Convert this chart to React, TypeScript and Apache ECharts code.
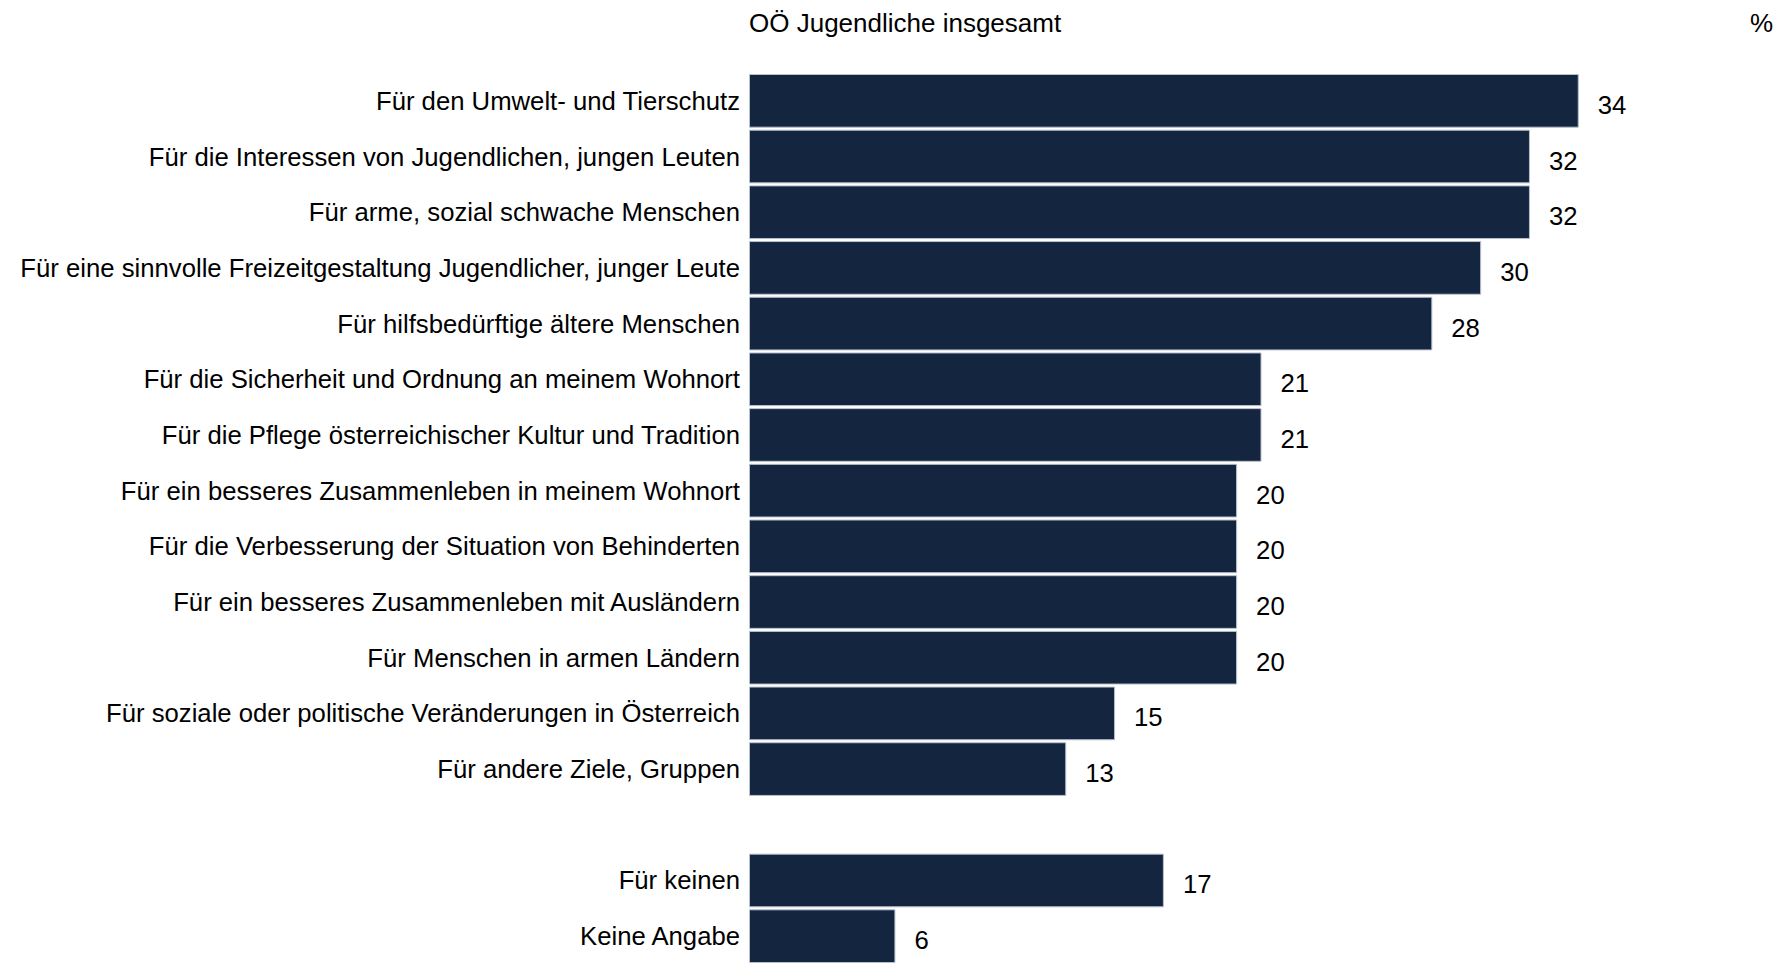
import React, { useEffect, useRef } from "react";
import * as echarts from "echarts";

const categories = [
  "Für den Umwelt- und Tierschutz",
  "Für die Interessen von Jugendlichen, jungen Leuten",
  "Für arme, sozial schwache Menschen",
  "Für eine sinnvolle Freizeitgestaltung Jugendlicher, junger Leute",
  "Für hilfsbedürftige ältere Menschen",
  "Für die Sicherheit und Ordnung an meinem Wohnort",
  "Für die Pflege österreichischer Kultur und Tradition",
  "Für ein besseres Zusammenleben in meinem Wohnort",
  "Für die Verbesserung der Situation von Behinderten",
  "Für ein besseres Zusammenleben mit Ausländern",
  "Für Menschen in armen Ländern",
  "Für soziale oder politische Veränderungen in Österreich",
  "Für andere Ziele, Gruppen",
  "",
  "Für keinen",
  "Keine Angabe",
];

const values: (number | null)[] = [34, 32, 32, 30, 28, 21, 21, 20, 20, 20, 20, 15, 13, null, 17, 6];

const seriesTitle = "OÖ Jugendliche insgesamt";
const unitLabel = "%";

const FONT = "'Liberation Sans', Arial, sans-serif";
const FS = 25.7;

export default function App() {
  const ref = useRef<HTMLDivElement>(null);
  useEffect(() => {
    if (!ref.current) return;
    const chart = echarts.init(ref.current, undefined, { renderer: "svg" });
    chart.setOption({
      animation: false,
      backgroundColor: "#ffffff",
      title: [
        {
          text: seriesTitle,
          left: 749,
          top: 10,
          padding: 0,
          textStyle: { fontFamily: FONT, fontSize: 26, fontWeight: "normal", color: "#000" },
        },
        {
          text: unitLabel,
          left: 1750,
          top: 10,
          padding: 0,
          textStyle: { fontFamily: FONT, fontSize: 26, fontWeight: "normal", color: "#000" },
        },
      ],
      grid: { left: 749, right: 15, top: 73, height: 896, containLabel: false },
      xAxis: {
        type: "value",
        min: 0,
        max: 42,
        show: false,
      },
      yAxis: {
        type: "category",
        inverse: true,
        data: categories,
        axisLine: { show: false },
        axisTick: { show: false },
        splitLine: { show: false },
        axisLabel: {
          fontFamily: FONT,
          fontSize: FS,
          color: "#000",
          margin: 9,
        },
      },
      series: [
        {
          type: "bar",
          data: values,
          barCategoryGap: "3.6%",
          itemStyle: { color: "#13253f", borderColor: "#b8c0cc", borderWidth: 1 },
          label: {
            show: true,
            position: "right",
            distance: 19,
            offset: [0, 4],
            fontFamily: FONT,
            fontSize: FS,
            color: "#000",
          },
        },
      ],
    });
    return () => chart.dispose();
  }, []);
  return (
    <div
      ref={ref}
      style={{ position: "fixed", left: 0, top: 0, width: 1789, height: 964, background: "#fff" }}
    />
  );
}
